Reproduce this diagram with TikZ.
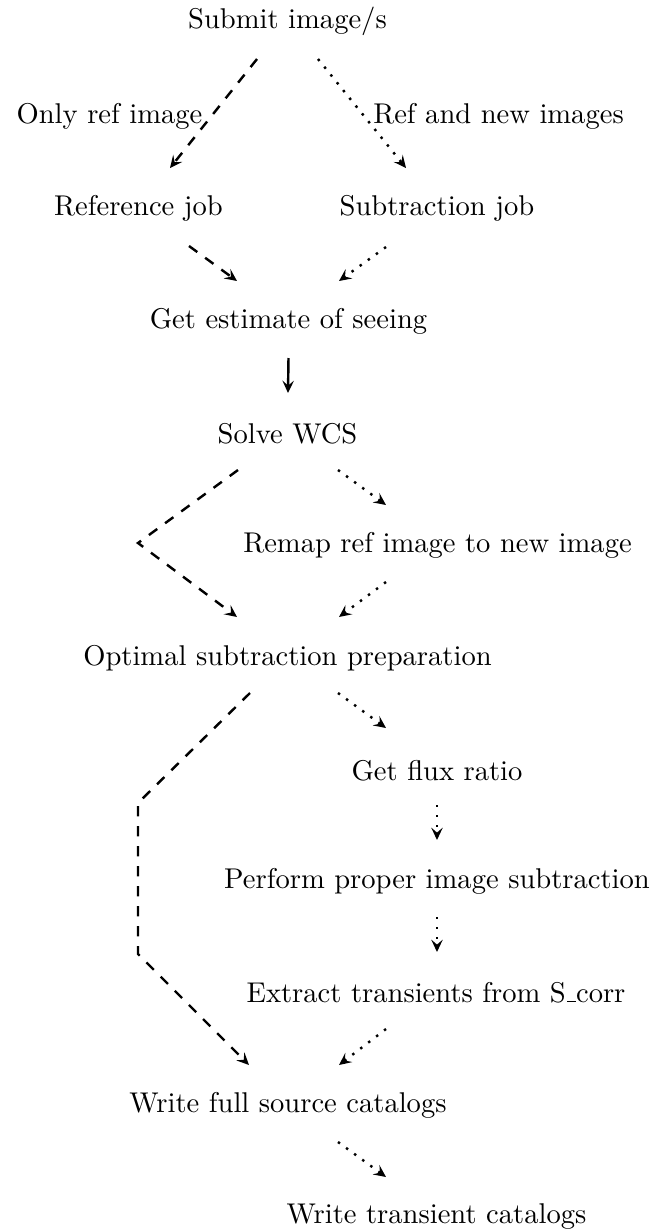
\documentclass[tikz,border=0pt]{standalone}
\usetikzlibrary{arrows.meta}
\newcommand\myusc{\leavevmode\kern.06em\vbox{\hrule width.3em}}
\begin{document}
\begin{tikzpicture}[x=0.35pt,y=-0.35pt,
  lbl/.style={inner sep=0pt,anchor=base},
  conn/.style={line width=0.85pt,-{Stealth[length=4.3pt,width=4pt,inset=1.7pt]}},
  dsh/.style={conn,dash pattern=on 3.6pt off 3.4pt},
  dts/.style={conn,dash pattern=on 0.85pt off 2.65pt}]
\useasboundingbox (0,0) rectangle (658,1230);
% nodes
\node[lbl] (submit)  at (287.5,28)  {Submit image/s};
\node[lbl] (onlyref) at (109.5,123) {Only ref image};
\node[lbl] (refnew)  at (498.5,123) {Ref and new images};
\node[lbl] (refjob)  at (138.5,215) {Reference job};
\node[lbl] (subjob)  at (437,215)   {Subtraction job};
\node[lbl] (seeing)  at (288.5,328) {Get estimate of seeing};
\node[lbl] (wcs)     at (287.5,443) {Solve WCS};
\node[lbl] (remap)   at (437.5,552) {Remap ref image to new image};
\node[lbl] (opt)     at (287.5,665) {Optimal subtraction preparation};
\node[lbl] (flux)    at (437,780)   {Get flux ratio};
\node[lbl] (perform) at (437,888)   {Perform proper image subtraction};
\node[lbl] (extract) at (436,1002)  {Extract transients from S\myusc corr};
\node[lbl] (full)    at (288,1112)  {Write full source catalogs};
\node[lbl] (trans)   at (436.5,1223) {Write transient catalogs};
\coordinate (c1) at (138,543);
\coordinate (c2) at (138,803);
\coordinate (c3) at (138,954);
% connectors
\draw[dsh] ([shift={(-30.5,31)}]submit.base) -- ([shift={(31.5,-47)}]refjob.base);
\draw[dts] ([shift={(30.5,31)}]submit.base) -- ([shift={(-31,-47)}]subjob.base);
\draw[dsh] ([shift={(50.5,31)}]refjob.base) -- ([shift={(-51.5,-47)}]seeing.base);
\draw[dts] ([shift={(-51,32)}]subjob.base) -- ([shift={(50.5,-47)}]seeing.base);
\draw[conn] ([shift={(0,30)}]seeing.base) -- ([shift={(0.5,-50)}]wcs.base);
\draw[dts] ([shift={(50.5,27)}]wcs.base) -- ([shift={(-51.5,-47)}]remap.base);
\draw[dsh] ([shift={(-49.5,27)}]wcs.base) -- (c1) -- ([shift={(-50.5,-48)}]opt.base);
\draw[dts] ([shift={(-51.5,30)}]remap.base) -- ([shift={(51.5,-48)}]opt.base);
\draw[dts] ([shift={(50.5,28)}]opt.base) -- ([shift={(-51,-52)}]flux.base);
\draw[dsh] ([shift={(-37.5,28)}]opt.base) -- (c2) -- (c3) -- ([shift={(-39,-47)}]full.base);
\draw[dts] ([shift={(0,25)}]flux.base) -- ([shift={(0,-48)}]perform.base);
\draw[dts] ([shift={(0,29)}]perform.base) -- ([shift={(1,-50)}]extract.base);
\draw[dts] ([shift={(-50,27)}]extract.base) -- ([shift={(51,-47)}]full.base);
\draw[dts] ([shift={(50,30)}]full.base) -- ([shift={(-50.5,-46)}]trans.base);
\end{tikzpicture}
\end{document}
